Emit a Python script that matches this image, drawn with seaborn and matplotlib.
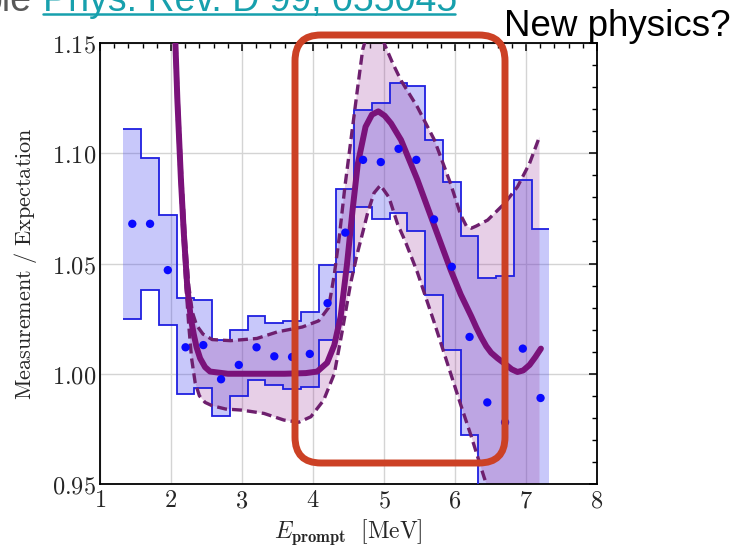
import numpy as np
import matplotlib
matplotlib.use("Agg")
import matplotlib.pyplot as plt
import seaborn as sns
from matplotlib.patches import FancyBboxPatch
from matplotlib.ticker import MultipleLocator, FuncFormatter
from matplotlib.lines import Line2D

sns.set_theme(style="white")
plt.rcParams["mathtext.fontset"] = "cm"
plt.rcParams["font.family"] = ["DejaVu Sans"]

# Measured / expected ratio per prompt-energy bin
bin_edges = [1.33, 1.58, 1.83, 2.08, 2.33, 2.58, 2.83, 3.08, 3.33, 3.58, 3.83, 4.08,
             4.33, 4.58, 4.83, 5.08, 5.33, 5.58, 5.83, 6.08, 6.33, 6.58, 6.83, 7.08, 7.33]
ratio_upper = [1.111, 1.098, 1.072, 1.0345, 1.0336, 1.0155, 1.0197, 1.0262, 1.0228, 1.024,
               1.028, 1.0495, 1.084, 1.1195, 1.1226, 1.1317, 1.1305, 1.106, 1.087, 1.0624,
               1.0432, 1.0444, 1.0878, 1.0656]
ratio_lower = [1.025, 1.038, 1.022, 0.9906, 0.9937, 0.981, 0.9897, 0.9973, 0.9947, 0.993,
               0.994, 1.0153, 1.0463, 1.0755, 1.0704, 1.0731, 1.0646, 1.0356, 1.0106, 0.972,
               0.93, 0.915, 0.935, 0.91]
ratio_central = [1.068, 1.068, 1.047, 1.012, 1.013, 0.9975, 1.004, 1.012, 1.0079, 1.0076,
                 1.009, 1.032, 1.064, 1.097, 1.096, 1.102, 1.097, 1.070, 1.0485, 1.0167,
                 0.987, 0.978, 1.0114, 0.989]

# Best-fit model curve
fit_E = [2.04, 2.09, 2.14, 2.18, 2.23, 2.28, 2.32, 2.36, 2.41, 2.48, 2.55, 2.8, 3.2, 3.6,
         3.9, 4.06, 4.2, 4.3, 4.39, 4.48, 4.56, 4.63, 4.74, 4.83, 4.92, 5.01, 5.10, 5.24,
         5.47, 5.71, 5.94, 6.08, 6.23, 6.30, 6.37, 6.44, 6.51, 6.60, 6.70, 6.80, 6.88,
         6.96, 7.05, 7.13, 7.21]
fit_ratio = [1.17, 1.124, 1.088, 1.064, 1.039, 1.025, 1.018, 1.012, 1.007, 1.003, 1.001,
             1.000, 1.000, 1.000, 1.0003, 1.001, 1.005, 1.013, 1.026, 1.05, 1.075, 1.095,
             1.112, 1.1175, 1.119, 1.117, 1.1135, 1.106, 1.088, 1.067, 1.047, 1.036, 1.026,
             1.021, 1.0165, 1.0125, 1.0095, 1.007, 1.0046, 1.002, 1.0008, 1.0015, 1.004,
             1.0075, 1.0114]

# Upper edge of the model uncertainty band
band_hi_E = [2.05, 2.10, 2.15, 2.2, 2.25, 2.3, 2.36, 2.45, 2.58, 2.84, 3.21, 3.5, 3.85,
             4.08, 4.22, 4.30, 4.37, 4.45, 4.55, 4.63, 4.70, 4.78, 4.85, 4.93, 5.0, 5.12,
             5.24, 5.47, 5.71, 5.94, 6.08, 6.16, 6.23, 6.30, 6.46, 6.70, 6.88, 7.05, 7.19]
band_hi = [1.17, 1.125, 1.09, 1.062, 1.04, 1.028, 1.022, 1.018, 1.0155, 1.015, 1.016, 1.019,
           1.0212, 1.024, 1.030, 1.045, 1.062, 1.085, 1.11, 1.13, 1.147, 1.156, 1.158,
           1.156, 1.15, 1.141, 1.133, 1.121, 1.106, 1.086, 1.072, 1.067, 1.066, 1.067,
           1.0697, 1.0773, 1.0848, 1.0954, 1.1075]

# Lower edge of the model uncertainty band
band_lo_E = [2.03, 2.08, 2.13, 2.17, 2.21, 2.25, 2.29, 2.34, 2.40, 2.48, 2.58, 2.77, 3.0,
             3.31, 3.59, 3.80, 3.97, 4.15, 4.30, 4.41, 4.53, 4.62, 4.70, 4.77, 4.86, 4.95,
             5.07, 5.19, 5.30, 5.47, 5.71, 5.94, 6.08, 6.23, 6.41, 6.50, 6.70, 7.19]
band_lo = [1.17, 1.124, 1.088, 1.062, 1.04, 1.022, 1.007, 0.996, 0.990, 0.987, 0.9855,
           0.984, 0.9835, 0.982, 0.979, 0.978, 0.9805, 0.988, 1.000, 1.019, 1.041, 1.054,
           1.064, 1.073, 1.082, 1.0855, 1.080, 1.068, 1.060, 1.046, 1.023, 1.000, 0.986,
           0.9715, 0.953, 0.945, 0.925, 0.885]

blue_line = "#1f1fe0"
blue_dot = "#0a0aff"
purple = "#7a127a"
dash_purple = "#6e1f6e"

fig = plt.figure(figsize=(7.36, 5.49), dpi=100)
ax = fig.add_axes([100 / 736, 65 / 549, 497 / 736, 441 / 549])

edges = np.array(bin_edges)
centers = 0.5 * (edges[:-1] + edges[1:])

# data band (stepped)
ax.stairs(ratio_upper, edges, baseline=ratio_lower, fill=True,
          color="#3c3cf0", alpha=0.28, lw=0, zorder=2)
# model band
poly_x = list(band_hi_E) + list(band_lo_E[::-1])
poly_y = list(band_hi) + list(band_lo[::-1])
ax.fill(poly_x, poly_y, color="#a040a0", alpha=0.25, lw=0, zorder=2)

ax.stairs(ratio_upper, edges, baseline=None, color=blue_line, lw=1.3, zorder=3)
ax.stairs(ratio_lower, edges, baseline=None, color=blue_line, lw=1.3, zorder=3)

sns.lineplot(x=band_hi_E, y=band_hi, ax=ax, color=dash_purple, lw=2.4, sort=False,
             linestyle=(0, (3.0, 1.5)), zorder=4)
sns.lineplot(x=band_lo_E, y=band_lo, ax=ax, color=dash_purple, lw=2.4, sort=False,
             linestyle=(0, (3.0, 1.5)), zorder=4)
sns.lineplot(x=fit_E, y=fit_ratio, ax=ax, color=purple, lw=4.3, sort=False, zorder=5)
sns.scatterplot(x=centers, y=ratio_central, ax=ax, color=blue_dot, s=36,
                edgecolor="none", zorder=6)

ax.set_xlim(1, 8)
ax.set_ylim(0.95, 1.15)
ax.xaxis.set_major_locator(MultipleLocator(1))
ax.xaxis.set_minor_locator(MultipleLocator(0.2))
ax.yaxis.set_major_locator(MultipleLocator(0.05))
ax.yaxis.set_minor_locator(MultipleLocator(0.01))
ax.xaxis.set_major_formatter(FuncFormatter(lambda v, p: f"${v:.0f}$"))
ax.yaxis.set_major_formatter(FuncFormatter(lambda v, p: f"${v:.2f}$"))
ax.tick_params(which="both", direction="in", top=True, right=True, color="black",
               labelsize=17.5, pad=3)
ax.tick_params(which="major", length=6, width=1.1)
ax.tick_params(which="minor", length=3.5, width=1.0)
ax.grid(True, which="major", color="#d4d4d4", lw=1.0)
ax.set_axisbelow(True)
for s in ax.spines.values():
    s.set_color("black")
    s.set_linewidth(1.3)

ax.set_xlabel(r"$E_{\mathbf{prompt}}\ \ \mathrm{[MeV]}$", fontsize=17, labelpad=4)
ax.set_ylabel(r"$\mathrm{Measurement\ /\ Expectation}$", fontsize=16, labelpad=9)

# highlighted region
box = FancyBboxPatch((295, 86), 210, 428,
                     boxstyle="round,pad=0,rounding_size=26",
                     transform=None, fill=False, ec="#cc4125", lw=5.0, zorder=20)
fig.patches.append(box)

# header texts
fig.text(504 / 736, 1 - 36 / 549, "New physics?", fontsize=26.5, color="black",
         family=["Liberation Sans"], va="baseline", ha="left")
fig.text(32 / 736, 1 - 11 / 549, "ble", fontsize=27, color="#595959",
         family=["Liberation Sans"], va="baseline", ha="right")
fig.text(43 / 736, 1 - 11 / 549, "Phys. Rev. D 99, 055045", fontsize=27, color="#17a0ad",
         family=["Liberation Sans"], va="baseline", ha="left")
fig.lines.append(Line2D([43 / 736, 455 / 736], [1 - 14 / 549, 1 - 14 / 549],
                        transform=fig.transFigure, color="#17a0ad", lw=1.8))

fig.savefig("out.png", dpi=100)
